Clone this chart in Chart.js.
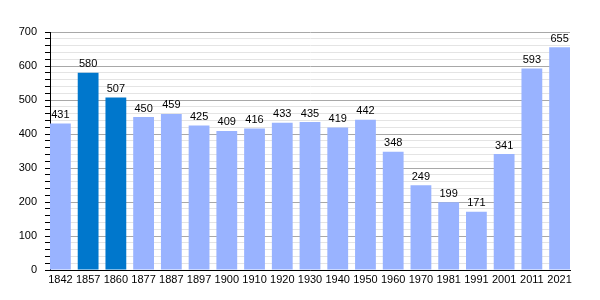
<!DOCTYPE html>
<html>
<head>
<meta charset="utf-8">
<script src="https://cdn.jsdelivr.net/npm/chart.js@4/dist/chart.umd.min.js"></script>
<style>
  html, body { margin: 0; padding: 0; background: #fff; }
  #wrap { width: 600px; height: 300px; }
</style>
</head>
<body>
<div id="wrap"><canvas id="c" width="600" height="300"></canvas></div>
<script>
const years = ['1842','1857','1860','1877','1887','1897','1900','1910','1920','1930','1940','1950','1960','1970','1981','1991','2001','2011','2021'];
const population = [431,580,507,450,459,425,409,416,433,435,419,442,348,249,199,171,341,593,655];
const highlightedYears = ['1857','1860'];
const yTickStep = 20;
const yLabelStep = 100;

const LIGHT = '#99b3ff';
const DARK = '#0077cc';

const valueLabels = {
  id: 'valueLabels',
  afterDatasetsDraw(chart) {
    const ctx = chart.ctx;
    const meta = chart.getDatasetMeta(0);
    ctx.save();
    ctx.font = '11px "Liberation Sans", Arial, sans-serif';
    ctx.fillStyle = '#000';
    ctx.textAlign = 'center';
    ctx.textBaseline = 'bottom';
    meta.data.forEach((bar, i) => {
      ctx.fillText(String(population[i]), bar.x, bar.y - 3);
    });
    ctx.restore();
  }
};

new Chart(document.getElementById('c'), {
  type: 'bar',
  data: {
    datasets: [{
      data: population.map((v, i) => ({ x: i, y: v })),
      backgroundColor: (c) => highlightedYears.includes(years[c.dataIndex]) ? DARK : LIGHT,
      borderWidth: 0,
      categoryPercentage: 1,
      barPercentage: 0.75
    }]
  },
  options: {
    responsive: false,
    animation: false,
    layout: { padding: { left: 0, top: 32, right: 30, bottom: 0 } },
    plugins: { legend: { display: false }, tooltip: { enabled: false } },
    scales: {
      x: {
        type: 'linear',
        min: -0.375,
        max: years.length - 1 + 0.375,
        offset: false,
        grid: { display: false, drawTicks: false },
        border: { display: true, color: '#000', width: 1 },
        afterBuildTicks: (s) => { s.ticks = years.map((_, i) => ({ value: i })); },
        ticks: {
          autoSkip: false,
          maxRotation: 0,
          padding: 3,
          color: '#000',
          font: { family: '"Liberation Sans", Arial, sans-serif', size: 11 },
          callback: (v) => years[v] !== undefined ? years[v] : ''
        },
        afterFit: (s) => { s.height = 30; }
      },
      y: {
        min: 0,
        max: 700,
        grid: {
          color: (c) => (c.tick && c.tick.value % yLabelStep === 0) ? '#a8a8a8' : '#e4e4e4',
          tickColor: '#000',
          tickLength: 5,
          drawTicks: true
        },
        border: { display: true, color: '#000', width: 1 },
        ticks: {
          stepSize: yTickStep,
          autoSkip: false,
          padding: 8,
          color: '#000',
          font: { family: '"Liberation Sans", Arial, sans-serif', size: 11 },
          callback: (v) => v % yLabelStep === 0 ? String(v) : ''
        },
        afterFit: (s) => { s.width = 50; }
      }
    }
  },
  plugins: [valueLabels]
});
</script>
</body>
</html>
